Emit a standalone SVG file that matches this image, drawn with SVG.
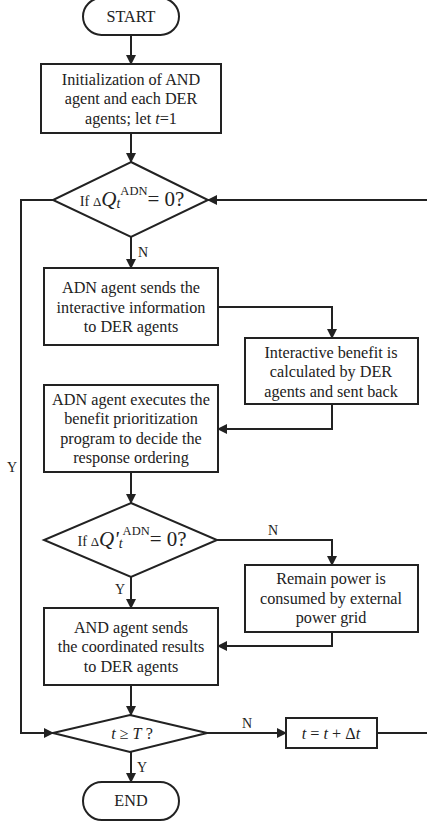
<svg xmlns="http://www.w3.org/2000/svg" width="427" height="825" viewBox="0 0 427 825" font-family="'Liberation Serif', 'DejaVu Serif', serif">
<style>
.s{fill:#fff;stroke:#222;stroke-width:2}
.c{fill:none;stroke:#222;stroke-width:2}
text{font-family:'Liberation Serif','DejaVu Serif',serif;fill:#222;font-size:16.2px;text-anchor:middle}
.i{font-style:italic}
.l{font-size:14px}
</style>
<defs>
<marker id="a" markerWidth="10" markerHeight="10" refX="9" refY="5" orient="auto" markerUnits="userSpaceOnUse">
<path d="M0,0 L10,5 L0,10 Z" fill="#222"/>
</marker>
</defs>
<g id="connectors">
<line class="c" x1="131" y1="35" x2="131" y2="64" marker-end="url(#a)"/>
<line class="c" x1="131" y1="133" x2="131" y2="162" marker-end="url(#a)"/>
<line class="c" x1="131" y1="237" x2="131" y2="268" marker-end="url(#a)"/>
<polyline class="c" points="218,307 332,307 332,338" marker-end="url(#a)"/>
<polyline class="c" points="332,404 332,429 218,429" marker-end="url(#a)"/>
<line class="c" x1="131" y1="472" x2="131" y2="503" marker-end="url(#a)"/>
<polyline class="c" points="217,540 332,540 332,565" marker-end="url(#a)"/>
<polyline class="c" points="332,632 332,646 218,646" marker-end="url(#a)"/>
<line class="c" x1="131" y1="577" x2="131" y2="608" marker-end="url(#a)"/>
<line class="c" x1="131" y1="685" x2="131" y2="715" marker-end="url(#a)"/>
<line class="c" x1="207" y1="733" x2="286" y2="733" marker-end="url(#a)"/>
<line class="c" x1="131" y1="752" x2="131" y2="782" marker-end="url(#a)"/>
<line class="c" x1="377" y1="733" x2="428" y2="733"/>
<line class="c" x1="428" y1="200" x2="208" y2="200" marker-end="url(#a)"/>
<polyline class="c" points="53,200 21,200 21,733 53,733" marker-end="url(#a)"/>
<text class="l" x="143" y="257">N</text>
<text class="l" x="273" y="535">N</text>
<text class="l" x="120" y="594">Y</text>
<text class="l" x="247" y="728">N</text>
<text class="l" x="142" y="772">Y</text>
<text class="l" x="12" y="472">Y</text>
</g>
<g id="start">
<rect class="s" x="83" y="-2" width="96" height="37" rx="18.5"/>
<text x="131" y="22">START</text>
</g>
<g id="init">
<rect class="s" x="41" y="64" width="180" height="69"/>
<text x="131" y="85">Initialization of AND</text>
<text x="131" y="104">agent and each DER</text>
<text x="131" y="124">agents; let <tspan class="i">t</tspan>=1</text>
</g>
<g id="d1">
<polygon class="s" points="131,162 208,200 131,237 53,200"/>
<text x="132" y="206"><tspan font-size="14.5">If </tspan><tspan font-size="13">Δ</tspan><tspan class="i" font-size="21">Q</tspan><tspan class="i" font-size="14" dy="2">t</tspan><tspan font-size="12.5" dy="-13">ADN</tspan><tspan font-size="21" dy="11">= 0?</tspan></text>
</g>
<g id="send">
<rect class="s" x="44" y="268" width="174" height="77"/>
<text x="131" y="293">ADN agent sends the</text>
<text x="131" y="313">interactive information</text>
<text x="131" y="332">to DER agents</text>
</g>
<g id="benefit">
<rect class="s" x="245" y="338" width="173" height="66"/>
<text x="331" y="358">Interactive benefit is</text>
<text x="331" y="377">calculated by DER</text>
<text x="331" y="397">agents and sent back</text>
</g>
<g id="prior">
<rect class="s" x="44" y="385" width="174" height="87"/>
<text x="131" y="405">ADN agent executes the</text>
<text x="131" y="424">benefit prioritization</text>
<text x="131" y="444">program to decide the</text>
<text x="131" y="463">response ordering</text>
</g>
<g id="d2">
<polygon class="s" points="131,503 217,540 131,577 44,540"/>
<text x="132" y="546"><tspan font-size="14.5">If </tspan><tspan font-size="13">Δ</tspan><tspan class="i" font-size="21">Q'</tspan><tspan class="i" font-size="14" dy="2">t</tspan><tspan font-size="12.5" dy="-13">ADN</tspan><tspan font-size="21" dy="11">= 0?</tspan></text>
</g>
<g id="remain">
<rect class="s" x="245" y="565" width="173" height="67"/>
<text x="331" y="584">Remain power is</text>
<text x="331" y="604">consumed by external</text>
<text x="331" y="623">power grid</text>
</g>
<g id="coord">
<rect class="s" x="44" y="608" width="174" height="77"/>
<text x="131" y="633">AND agent sends</text>
<text x="131" y="652">the coordinated results</text>
<text x="131" y="672">to DER agents</text>
</g>
<g id="d3">
<polygon class="s" points="130,715 207,733 130,752 53,733"/>
<text x="132" y="739" font-size="17"><tspan class="i">t</tspan> ≥ <tspan class="i">T</tspan> ?</text>
</g>
<g id="incr">
<rect class="s" x="286" y="718" width="91" height="30"/>
<text x="331" y="739" font-size="17"><tspan class="i">t</tspan> = <tspan class="i">t</tspan> + Δ<tspan class="i">t</tspan></text>
</g>
<g id="end">
<rect class="s" x="83" y="782" width="96" height="38" rx="19"/>
<text x="131" y="806">END</text>
</g>
</svg>
